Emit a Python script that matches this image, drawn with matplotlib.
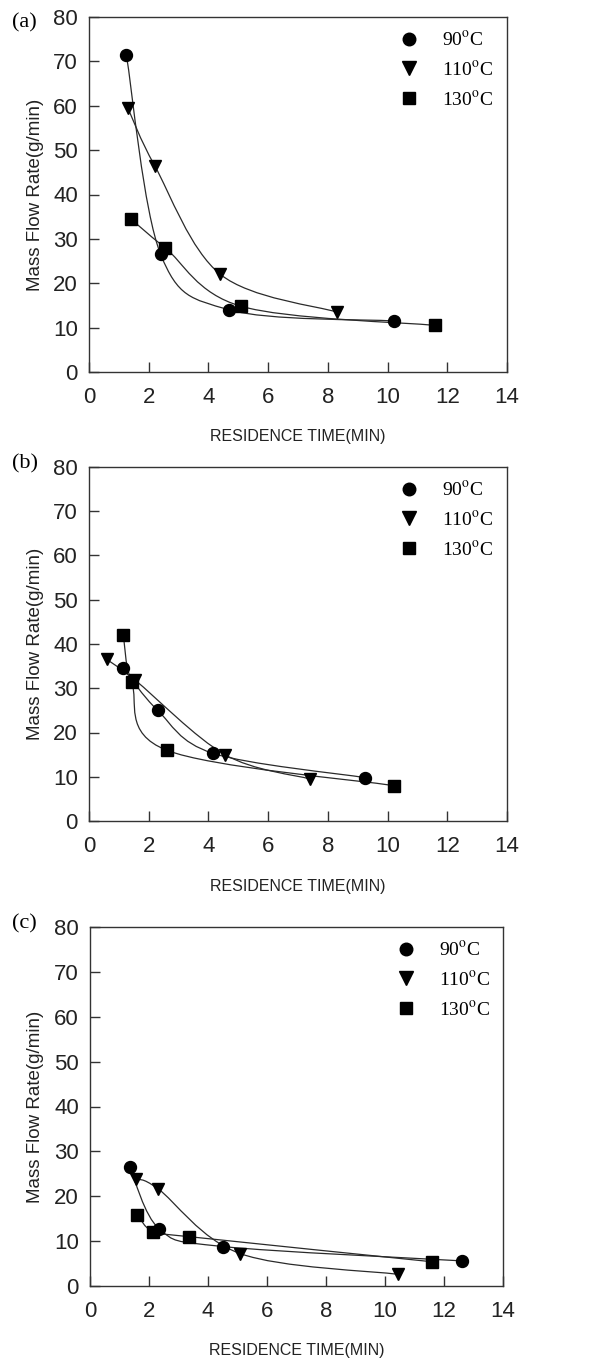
import matplotlib
matplotlib.use("Agg")
import matplotlib.pyplot as plt
from matplotlib.path import Path
from matplotlib.patches import PathPatch
from matplotlib.lines import Line2D

plt.rcParams["font.family"] = ["Liberation Sans", "DejaVu Sans"]
plt.rcParams["mathtext.fontset"] = "stix"

SERIES = ["90$^\\mathrm{o}$C", "110$^\\mathrm{o}$C", "130$^\\mathrm{o}$C"]
MARKERS = ["o", "v", "s"]
PANELS = ["(a)", "(b)", "(c)"]

# panel (a)
a_90_x = [1.25, 2.4, 4.7, 10.2]
a_90_y = [71.5, 26.5, 14.0, 11.5]
a_110_x = [1.3, 2.2, 4.4, 8.3]
a_110_y = [59.5, 46.5, 22.0, 13.5]
a_130_x = [1.4, 2.55, 5.1, 11.6]
a_130_y = [34.5, 28.0, 14.8, 10.5]

# panel (b)
b_90_x = [1.15, 2.3, 4.15, 9.25]
b_90_y = [34.5, 25.0, 15.3, 9.8]
b_110_x = [0.6, 1.55, 4.55, 7.4]
b_110_y = [36.5, 31.8, 15.0, 9.5]
b_130_x = [1.15, 1.43, 2.6, 10.2]
b_130_y = [42.0, 31.3, 16.0, 8.0]

# panel (c)
c_90_x = [1.35, 2.35, 4.5, 12.6]
c_90_y = [26.5, 12.7, 8.8, 5.6]
c_110_x = [1.57, 2.3, 5.1, 10.45]
c_110_y = [23.8, 21.7, 7.2, 2.6]
c_130_x = [1.6, 2.13, 3.35, 11.6]
c_130_y = [15.9, 12.1, 11.0, 5.4]

PANEL_DATA = [
    [(a_90_x, a_90_y), (a_110_x, a_110_y), (a_130_x, a_130_y)],
    [(b_90_x, b_90_y), (b_110_x, b_110_y), (b_130_x, b_130_y)],
    [(c_90_x, c_90_y), (c_110_x, c_110_y), (c_130_x, c_130_y)],
]

X_TICKS = [0, 2, 4, 6, 8, 10, 12, 14]
Y_TICKS = [0, 10, 20, 30, 40, 50, 60, 70, 80]

# axes boxes in pixels: left, top, right, bottom
BOXES = [(89, 17, 507, 372), (89, 467, 507, 821), (90, 927, 503, 1286)]
LABEL_Y = [23, 464, 924]
W, H = 592, 1361


def smooth_path(xs, ys):
    # Catmull-Rom style bezier through the points (like a smoothed line)
    pts = list(zip(xs, ys))
    n = len(pts)
    verts = [pts[0]]
    codes = [Path.MOVETO]
    for i in range(n - 1):
        p0 = pts[i - 1] if i > 0 else pts[i]
        p1 = pts[i]
        p2 = pts[i + 1]
        p3 = pts[i + 2] if i + 2 < n else pts[i + 1]
        c1 = (p1[0] + (p2[0] - p0[0]) / 6, p1[1] + (p2[1] - p0[1]) / 6)
        c2 = (p2[0] - (p3[0] - p1[0]) / 6, p2[1] - (p3[1] - p1[1]) / 6)
        verts += [c1, c2, p2]
        codes += [Path.CURVE4] * 3
    return Path(verts, codes)


fig = plt.figure(figsize=(W / 100, H / 100), dpi=100)

for k, (box, data) in enumerate(zip(BOXES, PANEL_DATA)):
    l, t, r, b = box
    hpx = b - t
    ax = fig.add_axes([l / W, 1 - b / H, (r - l) / W, hpx / H])
    handles = []
    for (xs, ys), mk, lab in zip(data, MARKERS, SERIES):
        ax.add_patch(PathPatch(smooth_path(xs, ys), facecolor="none",
                               edgecolor="#2a2a2a", lw=0.9, zorder=2))
        ms = 8.3 if mk == "s" else 9.3 if mk == "v" else 8.6
        ax.plot(xs, ys, linestyle="none", marker=mk, ms=ms, color="black", zorder=3)
        handles.append(Line2D([], [], linestyle="none", marker=mk, ms=ms, color="black", label=lab))
    ax.set_xlim(0, 14)
    ax.set_ylim(0, 80)
    ax.set_xticks(X_TICKS)
    ax.set_yticks(Y_TICKS)
    ax.tick_params(direction="in", length=7, width=1, labelsize=16, colors="#333333")
    ax.tick_params(axis="x", pad=11)
    ax.tick_params(axis="y", pad=8)
    ax.tick_params(labelcolor="#222222")
    for sp in ax.spines.values():
        sp.set_linewidth(1)
        sp.set_color("#333333")
    ax.set_xlabel("RESIDENCE TIME(MIN)", fontsize=11.5, color="#222222", va="center")
    ax.xaxis.set_label_coords(0.5, -65 / hpx)
    ax.set_ylabel("Mass Flow Rate(g/min)", fontsize=13.5, color="#222222", va="center")
    ax.yaxis.set_label_coords((35 - l) / (r - l), 0.5)
    ax.legend(handles=handles, loc="upper left", bbox_to_anchor=(0.705, 1.005),
              frameon=False, prop={"family": "Liberation Serif", "size": 14},
              handletextpad=1.2, labelspacing=0.55, handlelength=1.0, markerscale=1.05,
              borderpad=0.3)
    fig.text(12 / W, 1 - LABEL_Y[k] / H, PANELS[k], fontsize=16, family="Liberation Serif",
             va="center", ha="left")

fig.savefig("out.png", dpi=100)
